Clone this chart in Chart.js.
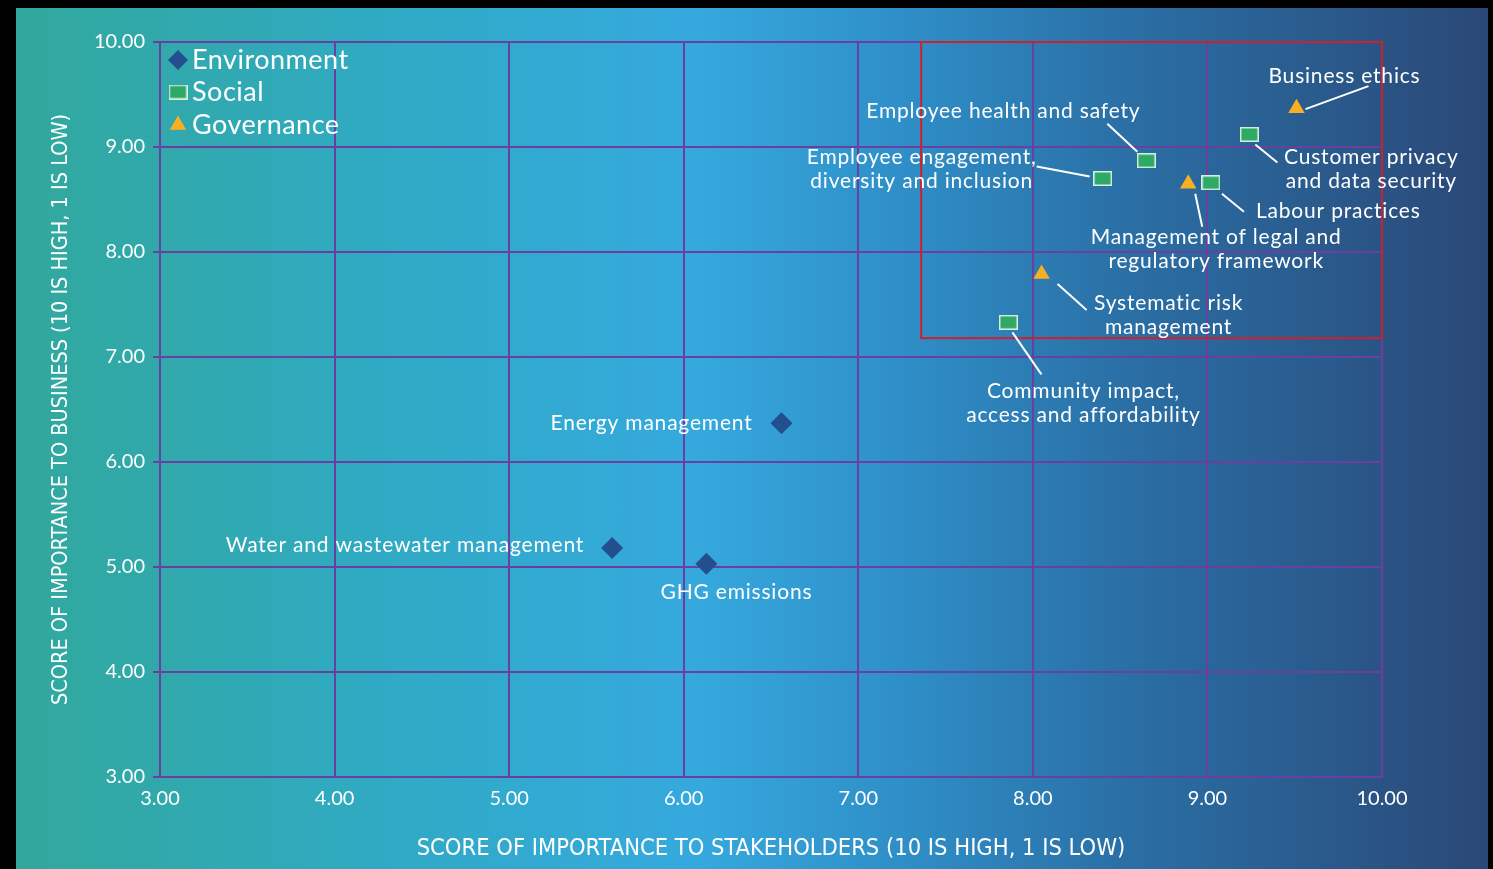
<!DOCTYPE html>
<html>
<head>
<meta charset="utf-8">
<script src="https://cdn.jsdelivr.net/npm/chart.js@4/dist/chart.umd.min.js"></script>
<style>
    html, body { margin: 0; padding: 0; background: #000; overflow: hidden; }
    #bg {
        position: absolute; left: 16px; top: 8px; width: 1472px; height: 861px;
        background: linear-gradient(90deg, #31a89c 0%, #30aac4 25%, #35a9de 46%, #2f8fc8 60%, #2a70a6 75%, #2a4877 100%);
    }
    #wrap { position: absolute; left: 0; top: 0; width: 1493px; height: 869px; }
</style>
</head>
<body>
<div id="bg"></div>
<div id="wrap"><canvas id="matrix"></canvas></div>
<script>
// ============ Data ============
const environmentNames = ['Energy management', 'Water and wastewater management', 'GHG emissions'];
const environmentX = [6.56, 5.59, 6.13];
const environmentY = [6.37, 5.18, 5.03];

const socialNames = [
    'Community impact,\naccess and affordability',
    'Employee engagement,\ndiversity and inclusion',
    'Employee health and safety',
    'Labour practices',
    'Customer privacy\nand data security'
];
const socialX = [7.86, 8.40, 8.65, 9.02, 9.24];
const socialY = [7.33, 8.70, 8.87, 8.66, 9.12];

const governanceNames = ['Systematic risk\nmanagement', 'Management of legal and\nregulatory framework', 'Business ethics'];
const governanceX = [8.05, 8.89, 9.51];
const governanceY = [7.79, 8.65, 9.37];

// highlighted quadrant (x range, y range)
const focusX = [7.36, 10];
const focusY = [7.18, 10];

const axisMin = 3;
const axisMax = 10;
const xTitle = 'SCORE OF IMPORTANCE TO STAKEHOLDERS (10 IS HIGH, 1 IS LOW)';
const yTitle = 'SCORE OF IMPORTANCE TO BUSINESS (10 IS HIGH, 1 IS LOW)';

// ============ Styling ============
const COLORS = {
    env: '#234f8f',
    social: '#2eaa66',
    socialEdge: '#d6efe0',
    gov: '#f7b024',
    grid: '#6b3fa0',
    focus: '#d0202e',
    text: '#ffffff'
};
const LABEL_FONT = '21px Lato';
const TICK_FONT = { family: 'Lato', size: 20 };
const TITLE_FAMILY = "'Liberation Sans Narrow', 'DejaVu Sans Condensed', 'Roboto'";

// label placement, pixel offsets from the marker; leader = [x1, y1, x2, y2]
const labelLayout = {
    'Energy management': { dx: -29, dy: 0, align: 'right' },
    'Water and wastewater management': { dx: -28, dy: -3, align: 'right' },
    'GHG emissions': { dx: 30, dy: 28, align: 'center' },
    'Community impact,\naccess and affordability': { dx: 75, dy: 69, align: 'center', leader: [4, 10, 33, 52] },
    'Employee engagement,\ndiversity and inclusion': { dx: -181, dy: -21, align: 'center', leader: [-13, -2, -66, -12] },
    'Employee health and safety': { dx: -143, dy: -49, align: 'center', leader: [-9, -9, -39, -37] },
    'Labour practices': { dx: 45, dy: 29, align: 'left', leader: [11, 11, 33, 29] },
    'Customer privacy\nand data security': { dx: 122, dy: 23, align: 'center', leader: [6, 10, 28, 28] },
    'Systematic risk\nmanagement': { dx: 127, dy: 29, align: 'center', leader: [16, 10, 45, 36] },
    'Management of legal and\nregulatory framework': { dx: 28, dy: 53, align: 'center', leader: [7, 10, 14, 43] },
    'Business ethics': { dx: 48, dy: -32, align: 'center', leader: [9, 1, 72, -22] }
};

// green rectangle marker (slightly wider than tall)
function makeSquare() {
    const c = document.createElement('canvas');
    c.width = 19; c.height = 15;
    const g = c.getContext('2d');
    g.fillStyle = COLORS.socialEdge;
    g.fillRect(0, 0, 19, 15);
    g.fillStyle = COLORS.social;
    g.fillRect(1.5, 1.5, 16, 12);
    return c;
}
const squareMarker = makeSquare();

const toPoints = (names, xs, ys) => names.map((n, i) => ({ x: xs[i], y: ys[i], name: n }));

const datasets = [
    {
        label: 'Environment',
        data: toPoints(environmentNames, environmentX, environmentY),
        pointStyle: 'rectRot', pointRadius: 11,
        backgroundColor: COLORS.env, borderColor: COLORS.env, borderWidth: 0
    },
    {
        label: 'Social',
        data: toPoints(socialNames, socialX, socialY),
        pointStyle: squareMarker, pointRadius: 9,
        backgroundColor: COLORS.social, borderWidth: 0
    },
    {
        label: 'Governance',
        data: toPoints(governanceNames, governanceX, governanceY),
        pointStyle: 'triangle', pointRadius: 9.5,
        backgroundColor: COLORS.gov, borderColor: COLORS.gov, borderWidth: 0
    }
];

// ============ Plugins ============
const focusBox = {
    id: 'focusBox',
    beforeDatasetsDraw(chart) {
        const { ctx, scales: { x, y } } = chart;
        const l = x.getPixelForValue(focusX[0]), r = x.getPixelForValue(focusX[1]);
        const t = y.getPixelForValue(focusY[1]), b = y.getPixelForValue(focusY[0]);
        ctx.save();
        ctx.strokeStyle = COLORS.focus;
        ctx.lineWidth = 2;
        ctx.strokeRect(l, t, r - l, b - t);
        ctx.restore();
    }
};

const pointLabels = {
    id: 'pointLabels',
    afterDatasetsDraw(chart) {
        const { ctx, scales: { x, y } } = chart;
        ctx.save();
        ctx.font = LABEL_FONT;
        ctx.letterSpacing = '0.8px';
        ctx.fillStyle = COLORS.text;
        ctx.strokeStyle = COLORS.text;
        ctx.lineWidth = 2;
        ctx.textBaseline = 'middle';
        chart.data.datasets.forEach(ds => ds.data.forEach(pt => {
            const lay = labelLayout[pt.name];
            if (!lay) return;
            const px = x.getPixelForValue(pt.x);
            const py = y.getPixelForValue(pt.y);
            if (lay.leader) {
                const [x1, y1, x2, y2] = lay.leader;
                ctx.beginPath();
                ctx.moveTo(px + x1, py + y1);
                ctx.lineTo(px + x2, py + y2);
                ctx.stroke();
            }
            ctx.textAlign = lay.align;
            pt.name.split('\n').forEach((line, i) => {
                ctx.fillText(line, px + lay.dx, py + lay.dy + i * 24);
            });
        }));
        ctx.restore();
    }
};

const innerLegend = {
    id: 'innerLegend',
    afterDraw(chart) {
        const { ctx, chartArea } = chart;
        const mx = chartArea.left + 18;
        const rows = [18, 50, 83];
        ctx.save();
        ctx.font = '27px Lato';
        ctx.letterSpacing = '0.5px';
        ctx.textBaseline = 'middle';
        ctx.textAlign = 'left';
        chart.data.datasets.forEach((ds, i) => {
            const my = chartArea.top + rows[i];
            ctx.fillStyle = ds.backgroundColor;
            Chart.helpers.drawPoint(ctx, {
                pointStyle: ds.pointStyle,
                radius: i === 0 ? 10 : 9.5,
                borderWidth: 0
            }, mx, my);
            ctx.fillStyle = COLORS.text;
            ctx.fillText(ds.label, mx + 14, my);
        });
        ctx.restore();
    }
};

// ============ Chart ============
new Chart(document.getElementById('matrix'), {
    type: 'scatter',
    data: { datasets },
    options: {
        responsive: true,
        maintainAspectRatio: false,
        animation: false,
        events: [],
        layout: { padding: { top: 42, right: 111, left: 0, bottom: 0 } },
        plugins: {
            legend: { display: false },
            tooltip: { enabled: false }
        },
        scales: {
            x: {
                min: axisMin, max: axisMax,
                ticks: { stepSize: 1, color: COLORS.text, font: TICK_FONT, padding: 10,
                    callback: v => v.toFixed(2) },
                grid: { color: COLORS.grid, lineWidth: 2, drawTicks: false },
                border: { display: true, color: COLORS.grid, width: 2 },
                title: { display: true, text: xTitle, color: COLORS.text,
                    font: { family: TITLE_FAMILY, size: 23.5 },
                    padding: { top: 0, bottom: 6 } },
                afterFit: axis => { axis.height = 92; }
            },
            y: {
                min: axisMin, max: axisMax,
                ticks: { stepSize: 1, color: COLORS.text, font: TICK_FONT, padding: 8,
                    callback: v => v.toFixed(2) },
                grid: { color: COLORS.grid, lineWidth: 2, tickLength: 7 },
                border: { display: true, color: COLORS.grid, width: 2 },
                title: { display: true, text: yTitle, color: COLORS.text,
                    font: { family: TITLE_FAMILY, size: 21.5 },
                    padding: { top: 49, bottom: 0 } },
                afterFit: axis => { axis.width = 160; }
            }
        }
    },
    plugins: [focusBox, pointLabels, innerLegend]
});
</script>
</body>
</html>
